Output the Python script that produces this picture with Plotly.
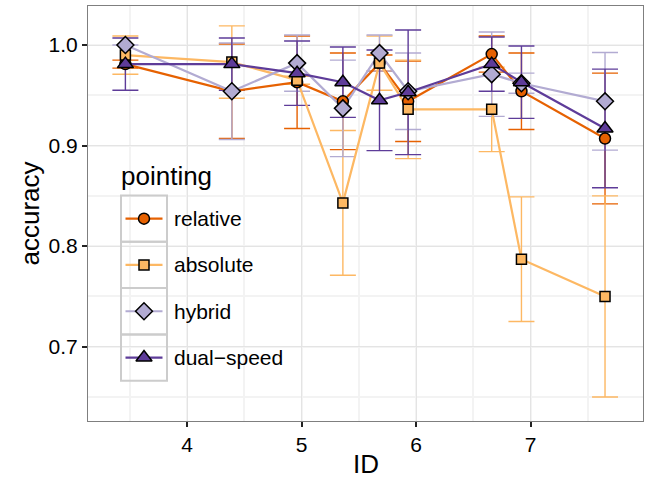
import plotly.graph_objects as go

# ---------------- data ----------------
ids = [3.46, 4.39, 4.96, 5.36, 5.68, 5.93, 6.66, 6.92, 7.65]

series_names = ["relative", "absolute", "hybrid", "dual\u2212speed"]

relative = [0.981, 0.954, 0.963, 0.944, 0.982, 0.944, 0.991, 0.954, 0.907]
relative_err = [0.004, 0.047, 0.046, 0.048, 0.008, 0.040, 0.018, 0.038, 0.065]

absolute = [0.990, 0.983, 0.965, 0.843, 0.982, 0.936, 0.936, 0.787, 0.750]
absolute_err = [0.019, 0.036, 0.004, 0.072, 0.027, 0.049, 0.042, 0.062, 0.100]

hybrid = [1.000, 0.954, 0.982, 0.937, 0.992, 0.954, 0.971, 0.962, 0.944]
hybrid_err = [0.000, 0.048, 0.028, 0.048, 0.018, 0.038, 0.042, 0.010, 0.0485]

dual = [0.981, 0.981, 0.972, 0.963, 0.945, 0.953, 0.981, 0.963, 0.917]
dual_err = [0.026, 0.026, 0.032, 0.035, 0.050, 0.062, 0.027, 0.036, 0.059]

y_ticks = [0.7, 0.8, 0.9, 1.0]
x_ticks = [4, 5, 6, 7]

colors = ["#e66101", "#fdb863", "#b2abd2", "#5e3c99"]
symbols = ["circle", "square", "diamond", "triangle-up"]
msizes = [11, 10, 13, 14]

values = [relative, absolute, hybrid, dual]
errors = [relative_err, absolute_err, hybrid_err, dual_err]

FONT = "Liberation Sans, Arial, Helvetica, sans-serif"

# layout geometry (pixels)
L, R, T, B = 88, 643, 6, 421
W_FIG, H_FIG = 645, 481

fig = go.Figure()

# error bar layer
for v, e, c in zip(values, errors, colors):
    fig.add_trace(go.Scatter(
        x=ids, y=v, mode="markers",
        marker=dict(size=1, color="rgba(0,0,0,0)"),
        error_y=dict(type="data", array=e, visible=True, color=c,
                     thickness=1.4, width=13),
        showlegend=False, hoverinfo="skip"))

# line layer
for v, c in zip(values, colors):
    fig.add_trace(go.Scatter(
        x=ids, y=v, mode="lines", line=dict(color=c, width=2.2),
        showlegend=False, hoverinfo="skip"))

# point layer
for v, c, s, ms in zip(values, colors, symbols, msizes):
    fig.add_trace(go.Scatter(
        x=ids, y=v, mode="markers",
        marker=dict(symbol=s, size=ms, color=c,
                    line=dict(color="black", width=1.5)),
        showlegend=False))

# ---------------- manual legend (pixel coordinates on overlay axes) ----------------
box_left, box_right = 121, 167
box_top, box_h = 195.5, 46.3
shapes = []
annotations = []
for i, (name, c, s, ms) in enumerate(zip(series_names, colors, symbols, msizes)):
    y0 = box_top + i * box_h
    y1 = y0 + box_h
    cy = (y0 + y1) / 2
    shapes.append(dict(type="rect", xref="x2", yref="y2",
                       x0=box_left, x1=box_right, y0=y0, y1=y1,
                       line=dict(color="#cccccc", width=2), fillcolor="rgba(0,0,0,0)"))
    fig.add_trace(go.Scatter(
        x=[125.5, 162.5], y=[cy, cy], mode="lines",
        line=dict(color=c, width=2.2), xaxis="x2", yaxis="y2",
        showlegend=False, hoverinfo="skip"))
    fig.add_trace(go.Scatter(
        x=[144], y=[cy], mode="markers",
        marker=dict(symbol=s, size=ms, color=c, line=dict(color="black", width=1.5)),
        xaxis="x2", yaxis="y2", showlegend=False, hoverinfo="skip"))
    annotations.append(dict(text=name, xref="x2", yref="y2", x=172, y=cy,
                            xanchor="left", yanchor="middle", showarrow=False,
                            font=dict(family=FONT, size=21, color="black")))

annotations.append(dict(text="pointing", xref="x2", yref="y2", x=119, y=176,
                        xanchor="left", yanchor="middle", showarrow=False,
                        font=dict(family=FONT, size=26, color="black")))

# axis titles
def px_to_paper_x(px):
    return (px - L) / (R - L)

def px_to_paper_y(py):
    return (B - py) / (B - T)

annotations.append(dict(text="ID", xref="paper", yref="paper",
                        x=px_to_paper_x(365.5), y=px_to_paper_y(464),
                        xanchor="center", yanchor="middle", showarrow=False,
                        font=dict(family=FONT, size=26, color="black")))
annotations.append(dict(text="accuracy", xref="paper", yref="paper",
                        x=px_to_paper_x(29), y=px_to_paper_y(213.5), textangle=-90,
                        xanchor="center", yanchor="middle", showarrow=False,
                        font=dict(family=FONT, size=26, color="black")))

fig.update_layout(
    width=W_FIG, height=H_FIG,
    margin=dict(l=L, r=W_FIG - R, t=T, b=H_FIG - B, pad=0),
    paper_bgcolor="white", plot_bgcolor="white",
    font=dict(family=FONT, color="black"),
    shapes=shapes, annotations=annotations,
    xaxis=dict(range=[3.1334, 7.9818], tickvals=x_ticks, ticktext=[str(t) for t in x_ticks],
               showgrid=True, gridcolor="#e4e4e4", gridwidth=1,
               minor=dict(dtick=0.5, tick0=3.5, showgrid=True, gridcolor="#f3f3f3", gridwidth=2),
               showline=True, mirror=True, linecolor="#7f7f7f", linewidth=1.2,
               ticks="outside", ticklen=5, tickwidth=1.5, tickcolor="#222222",
               tickfont=dict(family=FONT, size=21, color="black"),
               zeroline=False),
    yaxis=dict(range=[0.6261, 1.0388], tickvals=y_ticks, ticktext=["0.7", "0.8", "0.9", "1.0"],
               showgrid=True, gridcolor="#e4e4e4", gridwidth=1,
               minor=dict(dtick=0.05, tick0=0.65, showgrid=True, gridcolor="#f3f3f3", gridwidth=2),
               showline=True, mirror=True, linecolor="#7f7f7f", linewidth=1.2,
               ticks="outside", ticklen=5, tickwidth=1.5, tickcolor="#222222",
               tickfont=dict(family=FONT, size=21, color="black"),
               zeroline=False),
    xaxis2=dict(overlaying="x", range=[L, R], visible=False, fixedrange=True),
    yaxis2=dict(overlaying="y", range=[B, T], visible=False, fixedrange=True),
)

fig.write_html("out.html", config={"displayModeBar": False},
               post_script="document.body.style.margin='0';document.body.style.padding='0';")
